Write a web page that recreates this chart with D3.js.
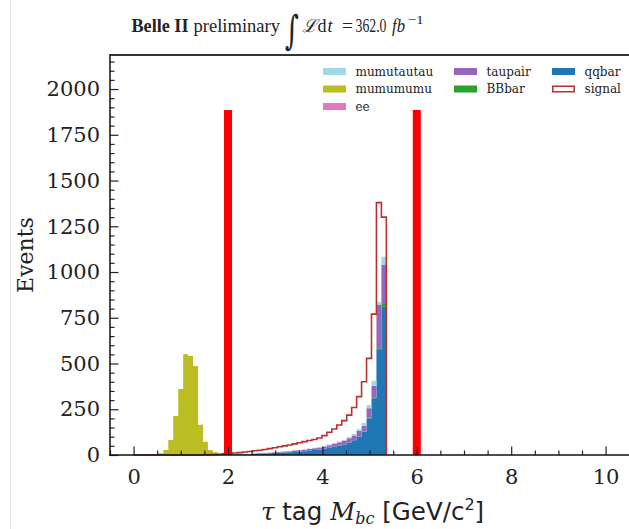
<!DOCTYPE html>
<html>
<head>
<meta charset="utf-8">
<script src="https://cdn.jsdelivr.net/npm/d3@7/dist/d3.min.js"></script>
<style>
    body { margin: 0; background: #fff; }
    svg { display: block; }
</style>
</head>
<body>
<div id="chart"></div>
<script>
// histogram bins: 0.105 GeV wide, starting at 0
const binWidth = 0.105;

// counts per bin (bin k covers [k*binWidth, (k+1)*binWidth])
const qqbar = [0,0,0,0,0,0,0,0,0,0, 0,0,0,0,0,0,0,0,0,
    1,2,3,3,4,5,6,8,9,11, 12,14,15,17,19,21,24,27,30,34,
    39,45,51,58,68,80,100,127,200,310, 574,810];
const BBbar = [0,0,0,0,0,0,0,0,0,0, 0,0,0,0,0,0,0,0,0,0,
    0,0,0,0,0,0,0,0,0,0, 0,0,0,0,0,0,0,0,0,0,
    0,0,0,0,0,1,2,3,5,10, 15];
const taupair = [0,0,0,0,0,0,0,0,0,0, 0,0,0,0,0,0,0,0,0,
    1,1,1,2,2,3,3,3,3,4, 5,5,6,7,7,8,9,10,11,13,
    14,16,18,20,23,27,30,31,52,63, 236,213];
const ee = [0,0,0,0,0,0,0,0,0,2, 4,4,3,2,0,0,0,0,0,0,
    0,0,0,0,0,0,0,0,0,0, 0,0,0,0,0,0,0,0,0,0,
    0,0,0,0,0,0,0,0,0,0, 0];
const mumumumu = [0,0,0,2,4,9,27,82,213,359, 546,537,483,164,73,27,15,8,4,2,
    0,0,0,0,0,0,0,0,0,0, 0,0,0,0,0,0,0,0,0,0,
    0,0,0,0,0,0,0,0,0,0, 0];
const mumutautau = [0,0,0,0,0,0,0,0,0,0, 0,0,0,0,0,0,0,0,0,
    0,0,0,0,0,0,0,1,1,1, 1,1,1,1,2,2,2,2,3,3,
    4,4,5,6,7,8,10,15,18,28, 18,46];
const signal = [0,0,0,0,0,0,0,0,0,0, 0,0,0,0,1,2,3,4,6,
    8,11,13,16,19,23,26,30,35,40, 45,50,55,61,67,73,79,85,93,106,
    124,142,164,188,218,260,319,400,528,770, 1379,1300];

const cutValues = [2, 6];
const cutHeight = 1885;

const xTicks = [0, 2, 4, 6, 8, 10];
const yTicks = [0, 250, 500, 750, 1000, 1250, 1500, 1750, 2000];

const stackOrder = ["qqbar", "BBbar", "taupair", "ee", "mumumumu", "mumutautau"];
const colors = {
    mumutautau: "#9edae5",
    mumumumu: "#bcbd22",
    ee: "#e377c2",
    taupair: "#9467bd",
    BBbar: "#2ca02c",
    qqbar: "#1f77b4",
    signal: "#b83030"
};
const seriesData = { qqbar, BBbar, taupair, ee, mumumumu, mumutautau };

const width = 629, height = 529;
const margin = { top: 55, right: 0, bottom: 74, left: 110 };

const svg = d3.select("#chart").append("svg")
    .attr("width", width)
    .attr("height", height);

svg.append("line")
    .attr("x1", 10.5).attr("x2", 10.5).attr("y1", 0).attr("y2", height)
    .attr("stroke", "#e4e4e4").attr("stroke-width", 1);

const x = d3.scaleLinear().domain([-0.5, 10.5]).range([margin.left, 629.2]);
const y = d3.scaleLinear().domain([0, 2186]).range([height - margin.bottom, margin.top]);

const nBins = signal.length;
const edges = d3.range(nBins + 1).map(k => k * binWidth);

const rows = d3.range(nBins).map(k => {
    const r = {};
    stackOrder.forEach(key => r[key] = seriesData[key][k]);
    return r;
});
const layers = d3.stack().keys(stackOrder)(rows);

const area = d3.area()
    .x(d => x(d.e))
    .y0(d => y(d.v0))
    .y1(d => y(d.v1))
    .curve(d3.curveStepAfter);

const plot = svg.append("g");

layers.forEach(layer => {
    const pts = layer.map((s, k) => ({ e: edges[k], v0: s[0], v1: s[1] }));
    const last = layer[nBins - 1];
    pts.push({ e: edges[nBins], v0: last[0], v1: last[1] });
    plot.append("path")
        .attr("d", area(pts))
        .attr("fill", colors[layer.key]);
});

// signal as step outline
const sigPts = signal.map((v, k) => [edges[k], v]);
sigPts.push([edges[nBins], 0]);
plot.append("path")
    .attr("d", d3.line().x(d => x(d[0])).y(d => y(d[1])).curve(d3.curveStepAfter)(sigPts))
    .attr("fill", "none")
    .attr("stroke", colors.signal)
    .attr("stroke-width", 1.6);

// cut lines
plot.selectAll(".cut")
    .data(cutValues)
    .enter()
    .append("line")
    .attr("class", "cut")
    .attr("x1", d => x(d)).attr("x2", d => x(d))
    .attr("y1", y(0)).attr("y2", y(cutHeight))
    .attr("stroke", "#ff0000")
    .attr("stroke-width", 8);

// axes, ticks pointing inward
const yMinor = d3.range(0, 2186, 50).filter(v => v % 250 !== 0);
const xMinor = d3.range(-0.5, 10.51, 0.5).filter(v => v % 2 !== 0);

svg.append("g")
    .attr("transform", `translate(${margin.left},0)`)
    .call(d3.axisLeft(y).tickValues(yMinor).tickSize(-4.5).tickFormat(""))
    .call(g => g.select(".domain").remove());

svg.append("g")
    .attr("transform", `translate(${margin.left},0)`)
    .call(d3.axisLeft(y).tickValues(yTicks).tickSize(-8.5).tickPadding(10).tickFormat(d3.format("d")))
    .call(g => g.select(".domain").remove())
    .style("font-family", "DejaVu Serif")
    .style("font-size", "21px");

svg.append("g")
    .attr("transform", `translate(0,${y(0)})`)
    .call(d3.axisBottom(x).tickValues(xMinor).tickSize(-4.5).tickFormat(""))
    .call(g => g.select(".domain").remove());

svg.append("g")
    .attr("transform", `translate(0,${y(0)})`)
    .call(d3.axisBottom(x).tickValues(xTicks).tickSize(-8.5).tickPadding(14).tickFormat(d3.format("d")))
    .call(g => g.select(".domain").remove())
    .style("font-family", "DejaVu Serif")
    .style("font-size", "21px");

svg.selectAll(".tick line").attr("stroke", "#222").attr("stroke-width", 1.2);
svg.selectAll(".tick text").attr("fill", "#222");

// spines
svg.append("line")
    .attr("x1", margin.left).attr("x2", width)
    .attr("y1", margin.top).attr("y2", margin.top)
    .attr("stroke", "#333").attr("stroke-width", 2);
svg.append("line")
    .attr("x1", margin.left).attr("x2", margin.left)
    .attr("y1", margin.top - 1).attr("y2", y(0) + 0.75)
    .attr("stroke", "#111").attr("stroke-width", 1.5);
svg.append("line")
    .attr("x1", margin.left - 0.75).attr("x2", width)
    .attr("y1", y(0)).attr("y2", y(0))
    .attr("stroke", "#111").attr("stroke-width", 1.5);

// axis labels
svg.append("text")
    .attr("transform", `translate(33,${(margin.top + y(0)) / 2}) rotate(-90)`)
    .attr("text-anchor", "middle")
    .style("font-family", "DejaVu Serif")
    .style("font-size", "22px")
    .attr("fill", "#222")
    .text("Events");

const xl = svg.append("text")
    .attr("x", (margin.left + width) / 2 + 3)
    .attr("y", 520)
    .attr("text-anchor", "middle")
    .attr("fill", "#222")
    .style("font-size", "24.5px")
    .style("font-family", "DejaVu Sans");
xl.append("tspan").style("font-family", "DejaVu Serif").style("font-style", "italic").text("τ");
xl.append("tspan").text(" tag ");
xl.append("tspan").style("font-family", "DejaVu Serif").style("font-style", "italic").text("M");
xl.append("tspan").style("font-family", "DejaVu Serif").style("font-style", "italic")
    .style("font-size", "16px").attr("dy", 4).text("bc");
xl.append("tspan").attr("dy", -4).text(" [GeV/c");
xl.append("tspan").style("font-size", "16px").attr("dy", -10).text("2");
xl.append("tspan").attr("dy", 10).text("]");

// title
const title = svg.append("g")
    .attr("fill", "#222")
    .style("font-family", "Liberation Serif")
    .style("font-size", "18px");
const titleParts = [
    { t: "Belle II", x: 131.5, w: 57, bold: true },
    { t: "preliminary", x: 193.5, w: 86.5 },
    { t: "ℒ", x: 302, italic: true },
    { t: "d", x: 317.5 },
    { t: "t", x: 327.5, italic: true },
    { t: "=", x: 342, w: 11 },
    { t: "362.0", x: 355.5, w: 31 },
    { t: "fb", x: 392, w: 13, italic: true }
];
titleParts.forEach(p => {
    const t = title.append("text")
        .attr("x", p.x).attr("y", 32)
        .style("font-weight", p.bold ? "bold" : null)
        .style("font-style", p.italic ? "italic" : null)
        .text(p.t);
    if (p.w) t.attr("textLength", p.w).attr("lengthAdjust", "spacingAndGlyphs");
});
title.append("text")
    .attr("x", 408).attr("y", 24)
    .attr("textLength", 15.5).attr("lengthAdjust", "spacingAndGlyphs")
    .style("font-size", "13px")
    .text("−1");
title.append("text")
    .attr("x", 285).attr("y", 44)
    .attr("textLength", 14).attr("lengthAdjust", "spacingAndGlyphs")
    .style("font-family", "DejaVu Serif")
    .style("font-style", "italic")
    .style("font-size", "40px")
    .text("∫");

// legend
const legendItems = [
    { key: "mumutautau", col: 0, row: 0 },
    { key: "mumumumu", col: 0, row: 1 },
    { key: "ee", col: 0, row: 2 },
    { key: "taupair", col: 1, row: 0 },
    { key: "BBbar", col: 1, row: 1 },
    { key: "qqbar", col: 2, row: 0 },
    { key: "signal", col: 2, row: 1 }
];
const colX = [323, 454, 552];
const rowY = [71.5, 89, 106.5];

const legend = svg.append("g");
legendItems.forEach(it => {
    const gx = colX[it.col], gy = rowY[it.row];
    legend.append("rect")
        .attr("x", gx + (it.key === "signal" ? 0.75 : 0))
        .attr("y", gy - 3.5 + (it.key === "signal" ? 0.75 : 0))
        .attr("width", it.key === "signal" ? 21.5 : 23)
        .attr("height", it.key === "signal" ? 5.5 : 7)
        .attr("fill", it.key === "signal" ? "#fff" : colors[it.key])
        .attr("stroke", it.key === "signal" ? colors.signal : "none")
        .attr("stroke-width", 1.5);
    legend.append("text")
        .attr("x", gx + 32.5)
        .attr("y", gy)
        .attr("dy", "0.35em")
        .attr("fill", "#222")
        .style("font-family", "DejaVu Serif")
        .style("font-size", "12px")
        .text(it.key);
});
</script>
</body>
</html>
